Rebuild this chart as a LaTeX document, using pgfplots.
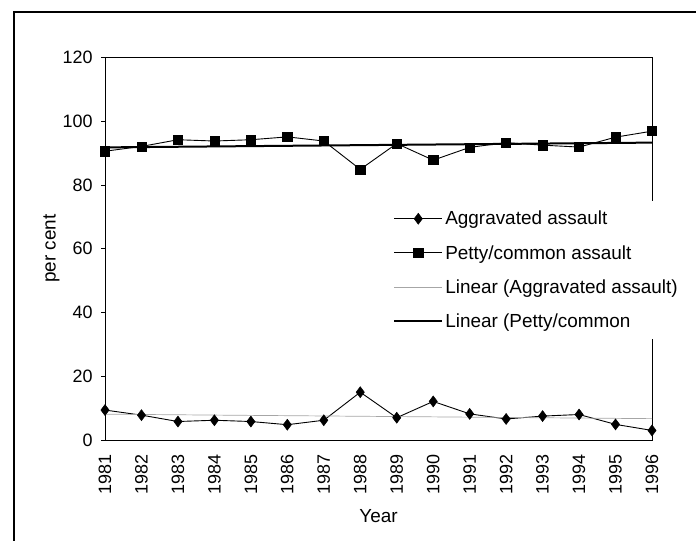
\documentclass[border=0pt]{standalone}
\usepackage{fontspec}
\setmainfont{Liberation Sans}
\usepackage{pgfplots}
\pgfplotsset{compat=1.18}

\begin{document}
\begin{tikzpicture}
\begin{axis}[
  at={(105bp,-440bp)}, anchor=south west,
  scale only axis, width=547bp, height=382.5bp,
  xmin=1981, xmax=1996, ymin=0, ymax=120,
  xtick={1981,...,1996}, ytick={0,20,...,120},
  xtick pos=bottom, ytick pos=left,
  /pgf/number format/1000 sep={},
  /pgf/number format/assume math mode=true,
  tick align=outside, major tick length=4bp,
  x tick style={draw=none},
  tick style={black, line width=0.6bp},
  axis line style={line width=0.8bp},
  ticklabel style={font=\fontsize{18}{21}\selectfont},
  xticklabel style={rotate=90, anchor=east, xshift=-7bp},
  yticklabel style={xshift=-5bp},
  xlabel={Year}, ylabel={per cent},
  label style={font=\fontsize{19}{22}\selectfont},
  xlabel style={at={(axis description cs:0.5,-0.199)}, anchor=center},
  ylabel style={at={(axis description cs:-0.098,0.5)}, anchor=center},
  clip=false,
  legend cell align=left,
  legend style={at={(0.523,0.625)}, anchor=north west, draw=none, fill=white,
    font=\fontsize{19}{22}\selectfont, row sep=15bp, inner xsep=2bp, inner ysep=8bp},
  legend image code/.code={\draw[mark repeat=2, mark phase=2, #1]
    plot coordinates {(0bp,0bp) (24bp,0bp) (48bp,0bp)};},
]
\addplot[black, line width=0.9bp, mark=diamond*, mark size=5.5bp,
  mark options={solid, line width=0.5bp}] coordinates {
  (1981,9.4) (1982,7.8) (1983,5.8) (1984,6.2) (1985,5.8) (1986,4.8)
  (1987,6.2) (1988,15.0) (1989,7.0) (1990,12.1) (1991,8.2) (1992,6.6)
  (1993,7.5) (1994,8.0) (1995,4.9) (1996,3.0)
};
\addlegendentry{Aggravated assault}
\addplot[black, line width=0.9bp, mark=square*, mark size=4.6bp,
  mark options={solid, line width=0.5bp}] coordinates {
  (1981,90.6) (1982,92.1) (1983,94.2) (1984,93.8) (1985,94.2) (1986,95.1)
  (1987,93.8) (1988,84.9) (1989,93.0) (1990,87.8) (1991,91.8) (1992,93.3)
  (1993,92.5) (1994,91.9) (1995,95.0) (1996,96.9)
};
\addlegendentry{Petty/common assault}
\addplot[gray!70, line width=0.7bp] coordinates {(1981,8.1) (1996,6.7)};
\addlegendentry{Linear (Aggravated assault)}
\addplot[black, line width=2bp] coordinates {(1981,91.8) (1996,93.3)};
\addlegendentry{Linear (Petty/common}
\end{axis}
\draw[line width=1.3bp] (14bp,-545bp) -- (14bp,-12bp) -- (700bp,-12bp);
\pgfresetboundingbox
\useasboundingbox (0bp,0bp) rectangle (696bp,-541bp);
\end{tikzpicture}
\end{document}
